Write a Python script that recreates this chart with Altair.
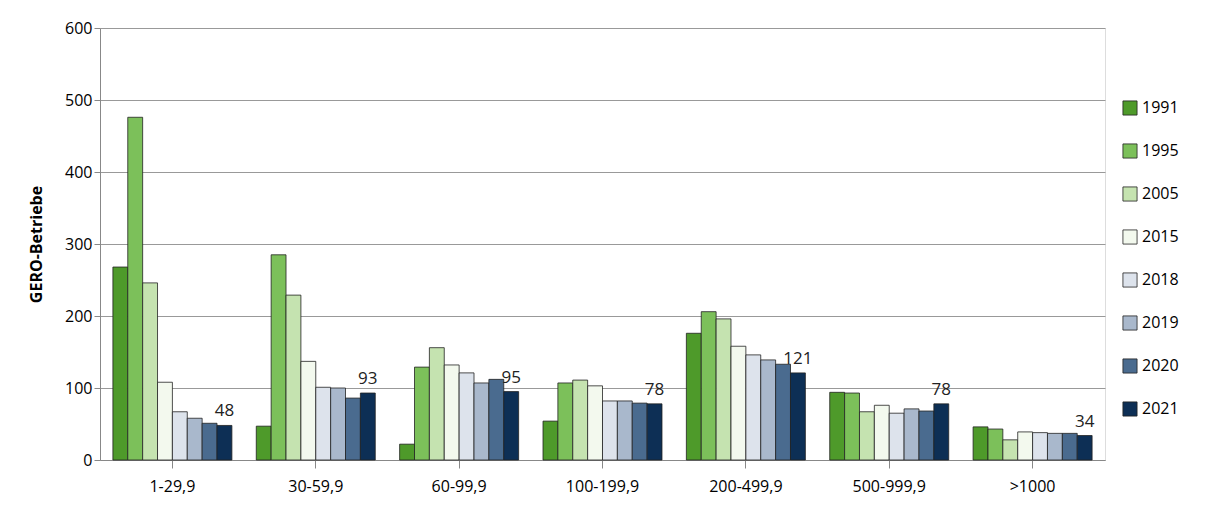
import altair as alt
import pandas as pd

groups = ["1-29,9", "30-59,9", "60-99,9", "100-199,9", "200-499,9", "500-999,9", ">1000"]
years = ["1991", "1995", "2005", "2015", "2018", "2019", "2020", "2021"]
colors = ["#4e9a2a", "#7cc05a", "#c5e3b0", "#f3f9ee", "#dde3ec", "#a9b8cc", "#4a6b8f", "#0d2f55"]

v1991 = [268, 47, 22, 54, 176, 94, 46]
v1995 = [476, 285, 129, 107, 206, 93, 43]
v2005 = [246, 229, 156, 111, 196, 67, 28]
v2015 = [108, 137, 132, 103, 158, 76, 39]
v2018 = [67, 101, 121, 82, 146, 65, 38]
v2019 = [58, 100, 107, 82, 139, 71, 37]
v2020 = [51, 86, 112, 79, 133, 68, 37]
v2021 = [48, 93, 95, 78, 121, 78, 34]

series = [v1991, v1995, v2005, v2015, v2018, v2019, v2020, v2021]
rows = []
for y, vals in zip(years, series):
    for g, v in zip(groups, vals):
        rows.append({"Größe": g, "Jahr": y, "Wert": v})
df = pd.DataFrame(rows)

x = alt.X("Größe:N", sort=groups, title=None,
          scale=alt.Scale(paddingInner=0.17, paddingOuter=0.09),
          axis=alt.Axis(labelAngle=0, labelFontSize=16, labelPadding=10, tickSize=8,
                        domainColor="#888", tickColor="#888", labelColor="#000"))
xo = alt.XOffset("Jahr:N", sort=years)

bars = alt.Chart(df).mark_bar(stroke="#222", strokeWidth=0.8).encode(
    x=x, xOffset=xo,
    y=alt.Y("Wert:Q", title="GERO-Betriebe", scale=alt.Scale(domain=[0, 600]),
            axis=alt.Axis(values=[0, 100, 200, 300, 400, 500, 600], labelFontSize=16,
                          titleFontSize=16, titleFontWeight="bold", titlePadding=20,
                          gridColor="#999", domainColor="#888", tickColor="#888",
                          labelColor="#000", titleColor="#000", tickSize=6)),
    color=alt.Color("Jahr:N", sort=years, scale=alt.Scale(domain=years, range=colors),
                    legend=alt.Legend(title=None, orient="none", legendX=1022, legendY=72,
                                      symbolType="square", symbolSize=200,
                                      symbolStrokeColor="#222", symbolStrokeWidth=0.8,
                                      labelFontSize=16, rowPadding=25, labelColor="#000")),
)

labels = alt.Chart(df).transform_filter(alt.datum.Jahr == "2021").mark_text(
    dy=-14, fontSize=17, color="#222"
).encode(x=x, xOffset=xo, y="Wert:Q", text="Wert:Q")

chart = (bars + labels).properties(
    width=1005, height=432, autosize="none",
    padding={"left": 92, "top": 20, "right": 100, "bottom": 42},
).configure_view(stroke=None).configure(font="Open Sans")

chart.save("out.html", embed_options={"renderer": "svg", "actions": False})
